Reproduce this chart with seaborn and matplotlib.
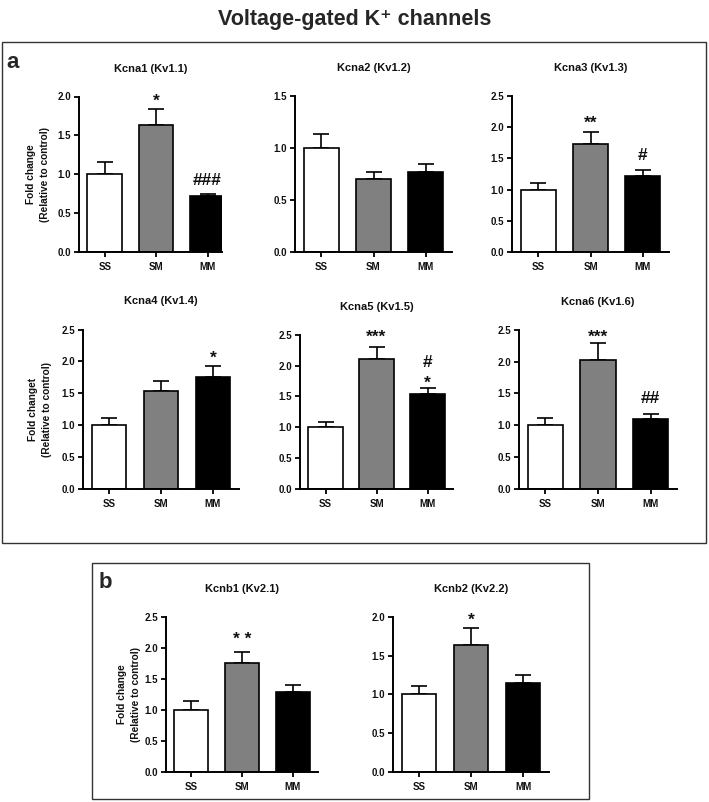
import numpy as np
import pandas as pd
import seaborn as sns
import matplotlib.pyplot as plt
from matplotlib.patches import Rectangle

sns.set_theme(style="ticks")
plt.rcParams['font.family'] = ['Liberation Sans', 'DejaVu Sans']
plt.rcParams['font.weight'] = 'bold'
plt.rcParams['axes.labelweight'] = 'bold'

## Data
groups = ["SS", "SM", "MM"]
bar_colors = ["#ffffff", "#808080", "#000000"]

titles = ["Kcna1 (Kv1.1)", "Kcna2 (Kv1.2)", "Kcna3 (Kv1.3)",
          "Kcna4 (Kv1.4)", "Kcna5 (Kv1.5)", "Kcna6 (Kv1.6)",
          "Kcnb1 (Kv2.1)", "Kcnb2 (Kv2.2)"]

kcna1_mean = [1.00, 1.63, 0.72]
kcna1_sem = [0.16, 0.215, 0.03]
kcna2_mean = [1.00, 0.70, 0.77]
kcna2_sem = [0.13, 0.07, 0.08]
kcna3_mean = [1.00, 1.73, 1.21]
kcna3_sem = [0.11, 0.19, 0.11]
kcna4_mean = [1.00, 1.54, 1.75]
kcna4_sem = [0.11, 0.145, 0.18]
kcna5_mean = [1.00, 2.11, 1.54]
kcna5_sem = [0.08, 0.19, 0.09]
kcna6_mean = [1.00, 2.02, 1.10]
kcna6_sem = [0.11, 0.28, 0.08]
kcnb1_mean = [1.00, 1.75, 1.29]
kcnb1_sem = [0.15, 0.18, 0.11]
kcnb2_mean = [1.00, 1.63, 1.15]
kcnb2_sem = [0.11, 0.22, 0.10]

means = [kcna1_mean, kcna2_mean, kcna3_mean, kcna4_mean,
         kcna5_mean, kcna6_mean, kcnb1_mean, kcnb2_mean]
sems = [kcna1_sem, kcna2_sem, kcna3_sem, kcna4_sem,
        kcna5_sem, kcna6_sem, kcnb1_sem, kcnb2_sem]

y_max = [2.0, 1.5, 2.5, 2.5, 2.5, 2.5, 2.5, 2.0]

# significance marks: (bar index, y position, text)
marks = [
    [(1, 1.935, "*"), (2, 0.92, "###")],
    [],
    [(1, 2.06, "**"), (2, 1.55, "#")],
    [(2, 2.05, "*")],
    [(1, 2.47, "***"), (2, 2.055, "#"), (2, 1.72, "*")],
    [(1, 2.39, "***"), (2, 1.42, "##")],
    [(1, 2.125, "* *")],
    [(1, 1.96, "*")],
]

ylabels = ["Fold change\n(Relative to control)", None, None,
           "Fold changet\n(Relative to control)", None, None,
           "Fold change\n(Relative to control)", None]

## Layout in pixels (left, top, right, bottom)
W, H = 709, 802
axes_px = [
    (79, 96.5, 222, 252), (295, 96, 452, 252), (512, 96, 669, 252),
    (83, 329.5, 239, 488.7), (300, 335, 453, 488.7), (519, 330, 677, 488.7),
    (166, 616.7, 318, 772), (393, 616.7, 549, 772),
]
x_right = [2.28, 2.5, 2.5, 2.5, 2.5, 2.5, 2.5, 2.5]
ylabel_x = [38, None, None, 40, None, None, 129, None]


def px_rect(l, t, r, b):
    return [l / W, 1 - b / H, (r - l) / W, (b - t) / H]


fig = plt.figure(figsize=(W / 100, H / 100), dpi=100)
fig.patch.set_facecolor("white")

for i in range(8):
    l, t, r, b = axes_px[i]
    ax = fig.add_axes(px_rect(l, t, r, b))
    df = pd.DataFrame({"Group": groups, "Fold": means[i]})
    sns.barplot(data=df, x="Group", y="Fold", hue="Group", palette=bar_colors,
                edgecolor="black", linewidth=1.2, width=0.67, legend=False,
                errorbar=None, ax=ax, zorder=2)
    ax.errorbar(np.arange(3), means[i], yerr=[np.zeros(3), sems[i]], fmt="none",
                ecolor="black", elinewidth=1.2, capsize=5.5, capthick=1.2, zorder=1)
    ax.set_xlim(-0.5, x_right[i])
    ax.set_ylim(0, y_max[i])
    ticks = np.arange(0, y_max[i] + 0.01, 0.5)
    ax.set_yticks(ticks)
    ax.set_yticklabels([f"{v:.1f}" for v in ticks])
    sns.despine(ax=ax)
    for s in ["left", "bottom"]:
        ax.spines[s].set_linewidth(1.4)
        ax.spines[s].set_color("black")
    ax.tick_params(axis="both", length=3.5, width=1.3, labelsize=7, pad=2,
                   color="black", labelcolor="#111111")
    ax.tick_params(axis="x", pad=4)
    ax.set_xlabel("")
    ax.set_ylabel("")
    ax.set_facecolor("none")
    ax.set_title(titles[i], fontsize=8, fontweight="bold", pad=18,
                 color="#111111")
    for xi, yv, txt in marks[i]:
        ax.text(xi, yv, txt, ha="center", va="center", fontsize=12.5,
                fontweight="bold", color="#111111")
    if ylabels[i]:
        fig.text(ylabel_x[i] / W, 1 - ((t + b) / 2) / H, ylabels[i],
                 rotation=90, ha="center", va="center", fontsize=7.3,
                 fontweight="bold", multialignment="center", linespacing=1.55,
                 color="#111111")

## Panel boxes and letters
fig.add_artist(Rectangle((2 / W, 1 - 543 / H), 704 / W, 501 / H,
                         transform=fig.transFigure, fill=False,
                         edgecolor="#333333", linewidth=1.0))
fig.add_artist(Rectangle((92 / W, 1 - 799 / H), 497 / W, 236 / H,
                         transform=fig.transFigure, fill=False,
                         edgecolor="#333333", linewidth=1.0))
fig.text(13 / W, 1 - 63 / H, "a", fontsize=16, fontweight="bold",
         ha="center", va="center")
fig.text(105 / W, 1 - 583 / H, "b", fontsize=16, fontweight="bold",
         ha="center", va="center")

fig.text(0.5, 1 - 19 / H, "Voltage-gated K\u207a channels", fontsize=15.5,
         fontweight="bold", ha="center", va="center")

fig.savefig("out.png", dpi=100, facecolor="white")
